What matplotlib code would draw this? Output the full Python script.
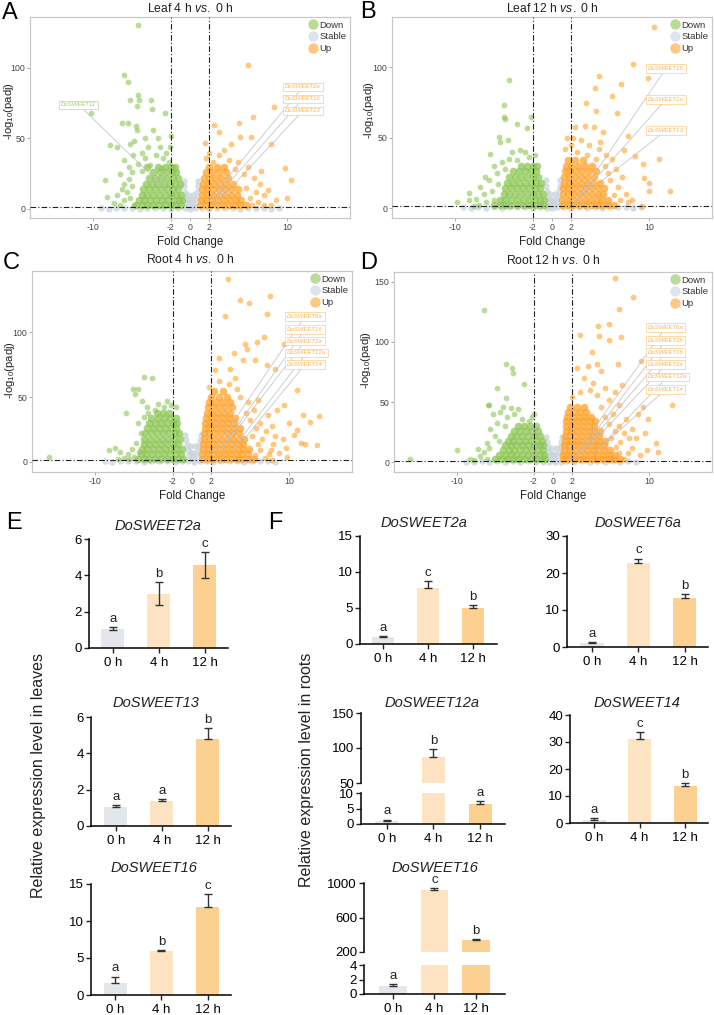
import matplotlib
matplotlib.use('Agg')
import matplotlib.pyplot as plt
from matplotlib.lines import Line2D

plt.rcParams['font.family'] = ['Liberation Sans', 'DejaVu Sans']
plt.rcParams['mathtext.fontset'] = 'custom'
plt.rcParams['mathtext.rm'] = 'Liberation Sans'
plt.rcParams['mathtext.it'] = 'Liberation Sans:italic'

W, H = 714, 1015

# ====================== VOLCANO DATA (log2FC-like x, -log10(padj) y) ======================
# --- A: Leaf 4 h vs 0 h ---
A_DOWN = [(-5.4,130),(-6.8,94.6),(-6.4,89.6),(-5.4,81),(-6.2,77),(-5.3,77),(-4.0,77),(-5.5,72.6),
          (-3.9,71),(-2.6,68),(-10.2,68.3),(-7.0,61),(-6.4,61),(-5.6,59),(-5.5,56),(-3.8,56),
          (-8.2,45.4),(-7.5,43.7),(-6.2,46),(-4.3,44),(-3.1,44),(-2.1,44),(-8.8,20.6),(-8.6,8.7),
          (-7.5,9.9),(-6.8,35),(-5.9,38),(-5.0,40),(-4.6,36),(-3.5,38),(-2.8,36),(-2.2,33),(-1.8,30),
          (-6.3,30),(-5.4,32),(-4.1,31),(-3.0,29),(-7.2,25),(-6.0,26),(-5.0,27),(-2.5,40),(-3.3,50),
          (-4.6,50),(-2.0,52),(-5.8,48),(-7.2,3),(-6.8,6),(-6.5,12),(-6.0,16),(-6.8,18),(-7.8,4),
          (-6.2,8),(-5.8,3),(-7.0,14),(-6.3,21)]
A_DOWN_CORE = [(2.5,[-5.6,-5.0,-4.4,-3.8,-3.2,-2.6,-2.0,-1.4,-0.9]),
               (6,[-5.3,-4.7,-4.1,-3.5,-2.9,-2.3,-1.7,-1.1,-0.8]),
               (10,[-5.0,-4.4,-3.8,-3.2,-2.6,-2.0,-1.4,-0.9]),
               (14,[-4.8,-4.2,-3.6,-3.0,-2.4,-1.8,-1.2]),
               (18,[-4.5,-3.9,-3.3,-2.7,-2.1,-1.5,-1.0]),
               (22,[-4.2,-3.6,-3.0,-2.4,-1.8,-1.2]),
               (26,[-3.8,-3.1,-2.5,-1.9,-1.4]),
               (30,[-4.4,-3.3,-2.6,-2.0,-1.5])]
A_UP = [(6.0,101.7),(8.7,72),(6.5,65),(5.1,61),(2.5,59.6),(3.0,54.8),(6.3,51.3),(8.4,46),(1.5,47),
        (4.2,46),(5.2,51),(9.8,28.8),(10.4,20.6),(10.0,8),(8.9,6.4),(8.0,13.5),(2.0,40),(3.0,38),
        (4.0,35),(5.0,33),(6.0,30),(3.5,42),(2.4,33),(4.6,28),(5.6,25),(6.6,22),(7.2,18),(7.6,10),
        (6.8,12),(7.0,5),(6.2,8),(5.8,15),(6.4,3),(7.6,3),(8.4,3),(1.6,36),(7.3,27)]
A_UP_CORE = [(2.5,[1.0,1.6,2.2,2.8,3.4,4.0,4.6,5.2,5.8]),
             (6,[1.1,1.7,2.3,2.9,3.5,4.1,4.7,5.3]),
             (10,[1.2,1.8,2.4,3.0,3.6,4.2,4.8]),
             (14,[1.2,1.8,2.4,3.0,3.6,4.2,5.0]),
             (18,[1.3,1.9,2.5,3.1,3.7,4.4]),
             (22,[1.4,2.0,2.6,3.2,3.9]),
             (26,[1.6,2.3,3.0,3.7]),
             (30,[2.0,2.8,3.5])]
A_STABLE = [(-9.2,0.6),(-8.4,0.3),(-7.6,0.9),(-6.8,0.4),(-6.0,0.8),(-5.2,0.3),(-4.4,0.9),(-3.6,0.5),
            (-2.8,0.8),(-2.0,0.3),(-1.2,0.7),(-0.5,0.4),(0.0,0.2),(0.5,0.5),(1.2,0.8),(2.0,0.3),
            (2.8,0.9),(3.6,0.4),(4.4,0.8),(5.2,0.3),(6.0,0.9),(6.8,0.5),(7.6,0.8),(8.4,0.3),(9.2,0.6),
            (-0.2,2.0),(-0.35,4.5),(-0.45,8),(-0.55,12),(-0.6,16),(-0.65,20),(0.25,2.0),(0.45,4.5),
            (0.6,8),(0.7,12),(0.8,16),(0.85,20),(-0.1,6),(0.15,6),(-0.25,10),(0.3,10)]
A_GENES_UP = ['DoSWEET2a', 'DoSWEET16', 'DoSWEET13']
A_GENES_DOWN = ['DoSWEET11']

# --- B: Leaf 12 h vs 0 h ---
B_DOWN = [(-4.4,91),(-5.0,73),(-4.9,64.7),(-4.8,63.5),(-3.6,59.5),(-2.6,57),(-2.2,64.7),(-5.5,50.6),
          (-5.4,47),(-4.55,48),(-6.4,38.4),(-4.1,40),(-3.3,41),(-2.8,40),(-6.9,22.4),(-7.4,15.3),
          (-8.6,10.6),(-8.55,5.9),(-9.8,4),(-7.8,6.4),(-6.0,30),(-5.2,33),(-4.4,35),(-3.6,34),
          (-2.4,36),(-1.8,38),(-5.7,25),(-4.8,28),(-6.5,20),(-7.0,10),(-6.2,12),(-6.8,4),(-7.5,2),
          (-6.0,6),(-5.6,17),(-8.0,1.5)]
B_DOWN_CORE = [(2.5,[-6.0,-5.4,-4.8,-4.2,-3.6,-3.0,-2.4,-1.8,-1.2,-0.8]),
               (6,[-5.4,-4.8,-4.2,-3.6,-3.0,-2.4,-1.8,-1.2,-0.8]),
               (10,[-5.0,-4.4,-3.8,-3.2,-2.6,-2.0,-1.4,-0.9]),
               (14,[-4.8,-4.2,-3.6,-3.0,-2.4,-1.8,-1.2]),
               (18,[-4.6,-4.0,-3.4,-2.8,-2.2,-1.6,-1.1]),
               (22,[-4.4,-3.8,-3.2,-2.6,-2.0,-1.4]),
               (26,[-4.0,-3.4,-2.8,-2.2,-1.6]),
               (30,[-3.2,-2.6,-2.0,-1.5])]
B_UP = [(10.5,128.7),(8.4,102.4),(4.8,94),(4.4,85.4),(7.1,87.8),(9.9,92.5),(6.2,79.3),(3.5,74.6),
        (4.55,68.7),(6.7,67.5),(2.4,57.6),(3.45,58),(4.3,57.6),(5.3,54),(7.8,51),(7.4,41),(8.6,37),
        (11.0,34.6),(9.4,31.3),(10.0,17.6),(10.0,11.8),(12.2,11.8),(9.5,21.2),(9.3,1.2),(8.3,5.9),
        (1.5,50),(2.0,45),(3.0,48),(3.8,45),(4.8,42),(5.6,38),(6.2,35),(2.6,40),(3.6,38),(4.5,35),
        (5.5,30),(6.6,28),(7.2,22),(6.0,20),(6.8,15),(7.6,10),(7.8,4),(7.0,6),(6.4,9),(5.8,25),
        (1.3,42),(2.2,50),(5.0,47)]
B_UP_CORE = [(2.5,[1.0,1.6,2.2,2.8,3.4,4.0,4.6,5.2,5.8,6.4]),
             (6,[1.0,1.6,2.2,2.8,3.4,4.0,4.6,5.2,5.8]),
             (10,[1.1,1.7,2.3,2.9,3.5,4.1,4.7,5.3]),
             (14,[1.1,1.7,2.3,2.9,3.5,4.1,4.7,5.4]),
             (18,[1.2,1.8,2.4,3.0,3.6,4.2,4.9]),
             (22,[1.2,1.8,2.4,3.0,3.6,4.3]),
             (26,[1.3,1.9,2.5,3.1,3.8,4.5]),
             (30,[1.4,2.0,2.7,3.4,4.1]),
             (34,[1.6,2.4,3.2])]
B_STABLE = A_STABLE
B_GENES_UP = ['DoSWEET16', 'DoSWEET2a', 'DoSWEET13']

# --- C: Root 4 h vs 0 h ---
C_DOWN = [(-4.93,65.6),(-4.14,64.9),(-6.1,56),(-5.6,56),(-4.65,42.5),(-6.8,37.4),(-5.86,52),
          (-8.6,9.2),(-7.9,10.5),(-7.4,7.9),(-14.7,3.6),(-3.5,45),(-2.6,47),(-5.2,47),(-7.0,3),
          (-6.6,6),(-6.2,10),(-6.0,4),(-5.5,8),(-5.8,15),(-5.3,22),(-5.6,30),(-6.5,2),(-7.6,2),
          (-5.0,35),(-4.5,38),(-3.8,40),(-2.9,42),(-2.2,44),(-1.6,42)]
C_DOWN_CORE = [(2.5,[-5.6,-5.0,-4.4,-3.8,-3.2,-2.6,-2.0,-1.4,-0.9]),
               (6,[-5.3,-4.7,-4.1,-3.5,-2.9,-2.3,-1.7,-1.1]),
               (10,[-5.2,-4.6,-4.0,-3.4,-2.8,-2.2,-1.6,-1.0]),
               (14,[-5.0,-4.4,-3.8,-3.2,-2.6,-2.0,-1.4]),
               (18,[-4.9,-4.3,-3.7,-3.1,-2.5,-1.9,-1.2]),
               (22,[-4.8,-4.2,-3.6,-3.0,-2.4,-1.8,-1.3]),
               (26,[-4.6,-4.0,-3.4,-2.8,-2.2,-1.6]),
               (30,[-4.4,-3.8,-3.2,-2.6,-2.0,-1.5]),
               (34,[-4.2,-3.5,-2.9,-2.3,-1.7]),
               (38,[-3.6,-3.0,-2.4])]
C_UP = [(3.68,140.5),(4.9,125),(5.85,122.5),(8.0,127.7),(3.45,112.5),(7.75,113.6),(7.4,96.4),
        (6.7,92),(5.5,90.5),(5.7,86.9),(4.3,83.6),(5.3,78.5),(6.45,78.5),(2.75,80.2),(3.96,71.5),
        (7.75,74.6),(8.6,71.5),(9.5,91),(10.8,55.4),(2.4,70.8),(13.1,35.4),(12.2,31),(11.4,36.2),
        (10.5,20.6),(11.7,14.2),(12.9,13.1),(9.5,43.8),(9.65,10.5),(8.1,9.2),(8.3,1.5),(9.8,4.1),
        (6.5,5),(7.0,9),(7.5,3),(6.8,14),(6.2,20),(7.2,18),(6.6,26),(7.6,24),(6.0,32),(7.0,30),
        (5.6,38),(6.4,40),(5.0,50),(5.8,46),(7.8,36),(8.2,28),(8.6,20),(8.4,14),(9.0,7),(7.9,6),
        (4.6,56),(3.8,60),(2.8,62),(1.8,58),(4.4,65),(6.8,48),(8.8,40),(10.0,30),(10.8,25),
        (11.2,15),(9.4,18)]
C_UP_CORE = [(2.5,[1.0,1.6,2.2,2.8,3.4,4.0,4.6,5.2,5.8,6.4]),
             (6,[1.0,1.6,2.2,2.8,3.4,4.0,4.6,5.2,5.8]),
             (10,[1.1,1.7,2.3,2.9,3.5,4.1,4.7,5.3,5.9]),
             (14,[1.1,1.7,2.3,2.9,3.5,4.1,4.7,5.3]),
             (18,[1.2,1.8,2.4,3.0,3.6,4.2,4.8,5.4]),
             (22,[1.2,1.8,2.4,3.0,3.6,4.2,4.8]),
             (26,[1.3,1.9,2.5,3.1,3.7,4.3,4.9]),
             (30,[1.3,1.9,2.5,3.1,3.7,4.3]),
             (34,[1.4,2.0,2.6,3.2,3.8,4.4]),
             (38,[1.5,2.1,2.7,3.3,3.9]),
             (42,[1.6,2.2,2.8,3.4,4.1]),
             (46,[1.8,2.5,3.2,3.9]),
             (50,[2.0,2.8,3.6]),
             (55,[2.3,3.2])]
C_STABLE = [(-9.0,0.6),(-8.2,0.3),(-7.4,0.9),(-6.6,0.4),(-5.8,0.8),(-5.0,0.3),(-4.2,0.9),(-3.4,0.5),
            (-2.6,0.8),(-1.8,0.3),(-1.0,0.7),(-0.4,0.4),(0.2,0.2),(0.8,0.5),(1.4,0.8),(2.2,0.3),
            (3.0,0.9),(3.8,0.4),(4.6,0.8),(5.4,0.3),(6.2,0.9),(7.0,0.5),(7.8,0.8),(8.6,0.3),
            (-0.2,2.0),(-0.35,5),(-0.45,9),(-0.55,13),(-0.65,17),(-0.7,21),(0.25,2.0),(0.45,5),
            (0.6,9),(0.7,13),(0.8,17),(0.9,21),(-0.1,7),(0.15,7),(-0.25,12),(0.35,12)]
C_GENES_UP = ['DoSWEET6a', 'DoSWEET16', 'DoSWEET2a', 'DoSWEET12a', 'DoSWEET14']

# --- D: Root 12 h vs 0 h ---
D_DOWN = [(-7.2,126.3),(-4.9,81.5),(-4.3,78.2),(-4.2,74.5),(-5.8,61.9),(-3.0,64.7),(-4.85,53.5),
          (-6.75,47.9),(-10.0,10.1),(-7.8,11.5),(-14.8,2.5),(-8.65,3.1),(-6.6,48),(-6.2,40),
          (-5.5,42),(-4.8,38),(-4.0,40),(-3.2,36),(-2.5,34),(-5.8,33),(-5.0,30),(-6.5,28),(-6.0,22),
          (-6.8,16),(-7.2,9),(-6.6,12),(-5.6,18),(-7.6,5),(-8.2,2),(-6.9,3),(-5.2,46),(-4.4,45),
          (-3.6,44),(-2.2,38),(-2.0,40)]
D_DOWN_CORE = [(2.5,[-6.0,-5.4,-4.8,-4.2,-3.6,-3.0,-2.4,-1.8,-1.2,-0.8]),
               (6,[-5.6,-5.0,-4.4,-3.8,-3.2,-2.6,-2.0,-1.4,-0.9]),
               (10,[-5.2,-4.6,-4.0,-3.4,-2.8,-2.2,-1.6,-1.0]),
               (14,[-5.0,-4.4,-3.8,-3.2,-2.6,-2.0,-1.4,-1.0]),
               (18,[-4.7,-4.1,-3.5,-2.9,-2.3,-1.7,-1.1]),
               (22,[-4.4,-3.8,-3.2,-2.6,-2.0,-1.4]),
               (26,[-4.0,-3.4,-2.8,-2.2,-1.6]),
               (30,[-3.6,-3.0,-2.4,-1.8])]
D_UP = [(6.48,153),(8.27,137.6),(6.8,127),(5.85,115),(4.65,112.9),(2.75,106),(4.8,105),(5.85,101.7),
        (7.07,103.9),(4.0,91.3),(4.6,81.5),(6.7,81.5),(9.1,84.3),(3.6,80),(5.0,75.9),(2.5,78.7),
        (12.4,47.9),(9.3,45.6),(9.9,35.9),(9.5,24.1),(10.7,15.7),(10.85,8.7),(9.8,10.1),(7.9,19.9),
        (6.0,4),(6.8,8),(7.4,3),(6.5,13),(6.0,20),(7.0,17),(6.4,26),(7.4,24),(5.8,32),(6.8,30),
        (5.4,38),(6.2,40),(5.0,46),(5.8,52),(7.6,36),(8.2,28),(8.6,20),(8.2,12),(9.0,6),(7.8,8),
        (4.6,56),(3.8,60),(2.8,58),(2.0,54),(4.2,66),(6.8,48),(8.8,40),(3.2,70),(5.4,62),(6.4,58),
        (7.2,64)]
D_UP_CORE = [(2.5,[1.0,1.6,2.2,2.8,3.4,4.0,4.6,5.2,5.8,6.4,7.0]),
             (6,[1.0,1.6,2.2,2.8,3.4,4.0,4.6,5.2,5.8,6.4]),
             (10,[1.1,1.7,2.3,2.9,3.5,4.1,4.7,5.3,5.9]),
             (14,[1.1,1.7,2.3,2.9,3.5,4.1,4.7,5.3]),
             (18,[1.2,1.8,2.4,3.0,3.6,4.2,4.8,5.4]),
             (22,[1.2,1.8,2.4,3.0,3.6,4.2,4.8]),
             (26,[1.3,1.9,2.5,3.1,3.7,4.3,4.9]),
             (30,[1.3,1.9,2.5,3.1,3.7,4.3]),
             (34,[1.4,2.0,2.6,3.2,3.8,4.4]),
             (38,[1.5,2.1,2.7,3.3,3.9]),
             (42,[1.6,2.2,2.8,3.4]),
             (46,[1.8,2.5,3.2])]
D_STABLE = C_STABLE
D_GENES_UP = ['DoSWEET6a', 'DoSWEET2b', 'DoSWEET16', 'DoSWEET2a', 'DoSWEET12a', 'DoSWEET14']

VOLCANO_XTICKS = [-10, -2, 0, 2, 10]
VOLCANO_XTICKLABELS = ['-10', '-2', '0', '2', '10']

# ====================== BAR DATA ======================
TIMES = ['0 h', '4 h', '12 h']
E_2A_MEAN = [1.05, 3.0, 4.55];   E_2A_ERR = [0.08, 0.62, 0.72];  E_2A_SIG = ['a', 'b', 'c']
E_13_MEAN = [1.05, 1.4, 4.8];    E_13_ERR = [0.08, 0.1, 0.6];    E_13_SIG = ['a', 'a', 'b']
E_16_MEAN = [1.6, 5.9, 11.9];    E_16_ERR = [0.9, 0.12, 1.7];    E_16_SIG = ['a', 'b', 'c']
F_2A_MEAN = [1.0, 7.8, 5.0];     F_2A_ERR = [0.12, 0.95, 0.35];  F_2A_SIG = ['a', 'c', 'b']
F_6A_MEAN = [1.0, 22.8, 13.2];   F_6A_ERR = [0.3, 1.1, 1.2];     F_6A_SIG = ['a', 'c', 'b']
F_12A_MEAN = [1.0, 86.5, 6.5];   F_12A_ERR = [0.45, 12.0, 1.0];  F_12A_SIG = ['a', 'b', 'a']
F_14_MEAN = [1.1, 31.0, 13.8];   F_14_ERR = [0.6, 2.8, 1.1];     F_14_SIG = ['a', 'c', 'b']
F_16_MEAN = [1.1, 915, 338];     F_16_ERR = [0.22, 30, 10];      F_16_SIG = ['a', 'c', 'b']

# ====================== STYLE ======================
COL_DOWN, COL_STAB, COL_UP = '#8cc655', '#c9d3de', '#ffa22b'
BAR_COLORS = ['#e3e7ec', '#fde3c1', '#fcd090']
PT_SIZE = 17
CORE_SIZE = 30

fig = plt.figure(figsize=(W / 100, H / 100), dpi=100)


def px_axes(l, t, r, b):
    return fig.add_axes([l / W, 1 - b / H, (r - l) / W, (b - t) / H])


def ftext(x, y, s, **kw):
    return fig.text(x / W, 1 - y / H, s, **kw)


def split(pts):
    return [p[0] for p in pts], [p[1] for p in pts]


def core_xy(core):
    return [x for y, row in core for x in row], [y for y, row in core for x in row]


def volcano(ax, down, down_core, up, up_core, stable, ylim, yticks,
            genes_up, lab_up, tgt_up, genes_dn=(), lab_dn=(), tgt_dn=()):
    sx, sy = split(stable)
    ax.scatter(sx, sy, s=PT_SIZE + 4, c=COL_STAB, alpha=0.75, lw=0, zorder=2)
    for pts, core, col in ((down, down_core, COL_DOWN), (up, up_core, COL_UP)):
        cx, cy = core_xy(core)
        ax.scatter(cx, cy, s=CORE_SIZE, c=col, alpha=0.75, lw=0, zorder=3)
        px_, py_ = split(pts)
        ax.scatter(px_, py_, s=PT_SIZE, c=col, alpha=0.6, lw=0, zorder=3)
    ls = (0, (5, 2, 1, 2))
    for v in (-2, 2):
        ax.axvline(v, color='#222222', lw=0.8, ls=ls, zorder=4)
    ax.axhline(1.3, color='#222222', lw=0.8, ls=ls, zorder=4)
    ax.set_xlim(-16.5, 16.5)
    ax.set_ylim(*ylim)
    ax.set_xticks(VOLCANO_XTICKS)
    ax.set_xticklabels(VOLCANO_XTICKLABELS)
    ax.set_yticks(yticks)
    for sp in ax.spines.values():
        sp.set_color('#c8c8c8'); sp.set_linewidth(0.9)
    ax.tick_params(length=2, width=0.6, color='#999999', labelsize=6.3,
                   labelcolor='#444444', pad=1.5)
    ax.set_xlabel('Fold Change', fontsize=8.3, labelpad=3, color='#222222')
    handles = [Line2D([], [], marker='o', ls='', ms=7.5, mew=0, color=c, alpha=0.6)
               for c in (COL_DOWN, COL_STAB, COL_UP)]
    ax.legend(handles, ['Down', 'Stable', 'Up'], loc='upper right', frameon=False,
              fontsize=6.8, handletextpad=0.05, labelspacing=0.28, borderaxespad=0.2,
              handlelength=1.2, borderpad=0.2, labelcolor='#333333')
    for g, (lx, ly), t in zip(genes_up, lab_up, tgt_up):
        ax.annotate(g, xy=t, xytext=(lx, ly), textcoords='data', fontsize=4.3,
                    style='italic', color='#ffb24d', ha='left', va='center', zorder=6,
                    bbox=dict(boxstyle='square,pad=0.3', fc='white', ec='#ffc987', lw=0.5),
                    arrowprops=dict(arrowstyle='-', color='#bdbdbd', lw=0.5,
                                    shrinkA=0, shrinkB=0))
    for g, (lx, ly), t in zip(genes_dn, lab_dn, tgt_dn):
        ax.annotate(g, xy=t, xytext=(lx, ly), textcoords='data', fontsize=4.3,
                    style='italic', color='#9fd06e', ha='left', va='center', zorder=6,
                    bbox=dict(boxstyle='square,pad=0.3', fc='white', ec='#b5dc93', lw=0.5),
                    arrowprops=dict(arrowstyle='-', color='#bdbdbd', lw=0.5,
                                    shrinkA=0, shrinkB=0))


axA = px_axes(30, 17, 350, 218)
volcano(axA, A_DOWN, A_DOWN_CORE, A_UP, A_UP_CORE, A_STABLE, (-6.4, 136), [0, 50, 100],
        A_GENES_UP, [(9.8, 86.5), (9.8, 78), (9.8, 69.5)], [(1.8, 5), (2.1, 3.5), (2.5, 2.5)],
        A_GENES_DOWN, [(-13.3, 73.8)], [(-1.0, 4)])
axB = px_axes(392, 17, 712, 218)
volcano(axB, B_DOWN, B_DOWN_CORE, B_UP, B_UP_CORE, B_STABLE, (-7, 135.5), [0, 50, 100],
        B_GENES_UP, [(9.9, 99), (9.9, 77), (9.9, 55)], [(2.6, 6), (2.3, 4), (2.0, 2.5)])
axC = px_axes(32, 271, 352, 472)
volcano(axC, C_DOWN, C_DOWN_CORE, C_UP, C_UP_CORE, C_STABLE, (-7.7, 147), [0, 50, 100],
        C_GENES_UP, [(9.8, 112), (9.8, 102), (9.8, 93), (9.8, 84), (9.8, 75)],
        [(1.8, 4), (2.8, 8), (3.3, 12), (4.2, 10), (5.0, 14)])
axD = px_axes(394, 272, 712, 472)
volcano(axD, D_DOWN, D_DOWN_CORE, D_UP, D_UP_CORE, D_STABLE, (-8, 158), [0, 50, 100, 150],
        D_GENES_UP, [(9.85, 112), (9.85, 101), (9.85, 91), (9.85, 81), (9.85, 71), (9.85, 60.5)],
        [(2.0, 3), (2.5, 6), (3.0, 9), (3.6, 12), (4.3, 8), (5.0, 13)])

ylab_kw = dict(rotation=90, ha='center', va='center', fontsize=8.1, color='#222222')
ylab = r'-log$_{10}$(padj)'
ftext(9, 111, ylab, **ylab_kw)
ftext(369, 110, ylab, **ylab_kw)
ftext(10, 370, ylab, **ylab_kw)
ftext(366, 360, ylab, **ylab_kw)

title_kw = dict(ha='center', va='center', fontsize=8.7, color='#222222')
ftext(190, 8, r'Leaf 4 h $\it{vs.}$ 0 h', **title_kw)
ftext(552, 9, r'Leaf 12 h $\it{vs.}$ 0 h', **title_kw)
ftext(190, 259, r'Root 4 h $\it{vs.}$ 0 h', **title_kw)
ftext(553, 260, r'Root 12 h $\it{vs.}$ 0 h', **title_kw)

# ====================== BAR PANELS ======================


def style_bar_ax(ax, xlim, ylim, yticks, show_x=True):
    ax.set_xlim(*xlim)
    ax.set_ylim(*ylim)
    ax.set_yticks(yticks)
    for s in ('top', 'right'):
        ax.spines[s].set_visible(False)
    ax.spines['left'].set_linewidth(1.1)
    ax.spines['bottom'].set_linewidth(1.1)
    ax.tick_params(axis='y', length=3.5, width=1.0, labelsize=9.5, pad=1.5, color='#222222')
    if show_x:
        ax.set_xticks([0, 1, 2])
        ax.set_xticklabels(TIMES)
        ax.tick_params(axis='x', length=3.5, width=1.0, labelsize=9.5, pad=3, color='#222222')
    else:
        ax.spines['bottom'].set_visible(False)
        ax.set_xticks([])


def draw_bars(ax, mean, err, sig, width, two_sided, letter_mask=(True, True, True)):
    x = [0, 1, 2]
    ax.bar(x, mean, width, color=BAR_COLORS, zorder=1)
    lower = err if two_sided else [0, 0, 0]
    ax.errorbar(x, mean, yerr=[lower, err], fmt='none', ecolor='#333333', elinewidth=1.0,
                capsize=3.2, capthick=1.0, zorder=2)
    for xi, m, e, s, show in zip(x, mean, err, sig, letter_mask):
        if show:
            ax.annotate(s, (xi, m + e), xytext=(0, 1.5), textcoords='offset points',
                        ha='center', va='bottom', fontsize=9.5, color='#222222')


# E DoSWEET2a
ax = px_axes(89, 539, 228, 648)
draw_bars(ax, E_2A_MEAN, E_2A_ERR, E_2A_SIG, 0.5, True)
style_bar_ax(ax, (-0.52, 2.5), (0, 6), [0, 2, 4, 6])
# E DoSWEET13
ax = px_axes(91, 717, 231, 826)
draw_bars(ax, E_13_MEAN, E_13_ERR, E_13_SIG, 0.5, False)
style_bar_ax(ax, (-0.54, 2.5), (0, 6), [0, 2, 4, 6])
# E DoSWEET16
ax = px_axes(91, 884, 231, 995)
draw_bars(ax, E_16_MEAN, E_16_ERR, E_16_SIG, 0.5, False)
style_bar_ax(ax, (-0.52, 2.5), (0, 15), [0, 5, 10, 15])
# F DoSWEET2a
ax = px_axes(360, 536, 497, 644)
draw_bars(ax, F_2A_MEAN, F_2A_ERR, F_2A_SIG, 0.5, False)
style_bar_ax(ax, (-0.51, 2.53), (0, 15), [0, 5, 10, 15])
# F DoSWEET6a
ax = px_axes(567, 536, 708, 647)
draw_bars(ax, F_6A_MEAN, F_6A_ERR, F_6A_SIG, 0.5, False)
style_bar_ax(ax, (-0.54, 2.5), (0, 30), [0, 10, 20, 30])
# F DoSWEET12a (broken axis)
ax_lo = px_axes(361, 793, 505, 824)
draw_bars(ax_lo, F_12A_MEAN, F_12A_ERR, F_12A_SIG, 0.5, False, (True, False, True))
style_bar_ax(ax_lo, (-0.55, 2.53), (0, 10), [0, 5, 10])
ax_hi = px_axes(361, 713, 505, 783)
draw_bars(ax_hi, F_12A_MEAN, F_12A_ERR, F_12A_SIG, 0.5, False, (False, True, False))
style_bar_ax(ax_hi, (-0.55, 2.53), (50, 150), [50, 100, 150], show_x=False)
# F DoSWEET14
ax = px_axes(570, 715, 708, 823)
draw_bars(ax, F_14_MEAN, F_14_ERR, F_14_SIG, 0.5, False)
style_bar_ax(ax, (-0.53, 2.5), (0, 40), [0, 10, 20, 30, 40])
# F DoSWEET16 (broken axis)
ax_lo = px_axes(364, 965, 505, 994)
draw_bars(ax_lo, F_16_MEAN, F_16_ERR, F_16_SIG, 0.67, False, (True, False, False))
style_bar_ax(ax_lo, (-0.7, 2.7), (0, 4), [0, 2, 4])
ax_hi = px_axes(364, 883, 505, 952)
draw_bars(ax_hi, F_16_MEAN, F_16_ERR, F_16_SIG, 0.67, False, (False, True, True))
style_bar_ax(ax_hi, (-0.7, 2.7), (200, 1000), [200, 600, 1000], show_x=False)

bt_kw = dict(ha='center', va='center', fontsize=10.5, style='italic', color='#222222')
ftext(158, 526, 'DoSWEET2a', **bt_kw)
ftext(156, 703, 'DoSWEET13', **bt_kw)
ftext(154, 868, 'DoSWEET16', **bt_kw)
ftext(424, 523, 'DoSWEET2a', **bt_kw)
ftext(638, 523, 'DoSWEET6a', **bt_kw)
ftext(432, 703, 'DoSWEET12a', **bt_kw)
ftext(637, 703, 'DoSWEET14', **bt_kw)
ftext(435, 868, 'DoSWEET16', **bt_kw)

ftext(39, 775, 'Relative expression level in leaves', rotation=90, ha='center', va='center',
      fontsize=11.5, color='#222222')
ftext(306, 770, 'Relative expression level in roots', rotation=90, ha='center', va='center',
      fontsize=11.5, color='#222222')

lt_kw = dict(ha='left', va='center', fontsize=17, color='black')
ftext(2, 13, 'A', **lt_kw)
ftext(360, 12, 'B', **lt_kw)
ftext(3, 263, 'C', **lt_kw)
ftext(360, 263, 'D', **lt_kw)
ftext(6, 523, 'E', **lt_kw)
ftext(268, 523, 'F', **lt_kw)

fig.savefig('out.png', dpi=100)
